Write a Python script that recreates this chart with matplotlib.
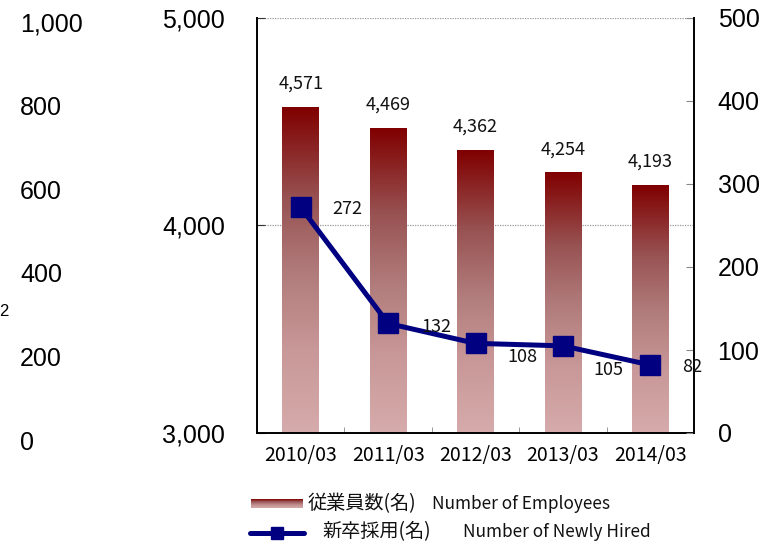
import numpy as np
import matplotlib
matplotlib.use("Agg")
import matplotlib.pyplot as plt
from matplotlib.colors import LinearSegmentedColormap
from matplotlib.lines import Line2D
from matplotlib.ticker import FuncFormatter

# ---- data ----
categories = ["2010/03", "2011/03", "2012/03", "2013/03", "2014/03"]
employees = [4571, 4469, 4362, 4254, 4193]
new_hires = [272, 132, 108, 105, 82]
left_ticks = [3000, 4000, 5000]
right_ticks = [0, 100, 200, 300, 400, 500]
outer_ticks = [0, 200, 400, 600, 800, 1000]
legend_emp_jp = "従業員数(名)"
legend_emp_en = "Number of Employees"
legend_new_jp = "新卒採用(名)"
legend_new_en = "Number of Newly Hired"

# label offsets (pixels) for the line value labels
hire_label_offsets = [(47, -2), (48, -4), (47, -14), (45, -24), (42, -2)]

plt.rcParams['font.family'] = ['Liberation Sans', 'DejaVu Sans']
cjk = ['Noto Sans CJK JP', 'DejaVu Sans']

W, H = 766, 542
fig = plt.figure(figsize=(W / 100, H / 100), dpi=100)


def fx(px):
    return px / W


def fy(py):
    return 1 - py / H


comma = FuncFormatter(lambda v, p: f"{int(v):,}")

# ---- main axes (employees) ----
ax = fig.add_axes([fx(257), fy(433), fx(694) - fx(257), fy(18) - fy(433)])
x = np.arange(len(categories))
cmap = LinearSegmentedColormap.from_list(
    'bar', [(0.0, '#d6abab'), (0.25, '#c99898'), (0.5, '#b07a7a'),
            (0.72, '#985252'), (1.0, '#800000')])
grad = np.linspace(0, 1, 256).reshape(-1, 1)

bars = ax.bar(x, employees, width=0.42, color='none', zorder=2)
for b in bars:
    x0 = b.get_x()
    x1 = x0 + b.get_width()
    y0 = max(b.get_y(), 3000)
    y1 = b.get_y() + b.get_height()
    ax.imshow(grad, extent=[x0, x1, y0, y1], origin='lower', aspect='auto',
              cmap=cmap, zorder=2)
for xi, v in zip(x, employees):
    ax.annotate(f"{v:,}", (xi, v), xytext=(0, 17), textcoords='offset points',
                ha='center', va='center', fontsize=13, family=cjk, color='#111111')

ax.set_xlim(-0.5, 4.5)
ax.set_ylim(3000, 5000)
ax.set_yticks(left_ticks)
ax.yaxis.set_major_formatter(comma)
ax.tick_params(axis='y', which='major', direction='in', length=6, color='#333333',
               pad=23, labelsize=18)
ax.tick_params(axis='y', which='minor', left=False)
ax.set_xticks(x, categories)
for lbl in ax.get_xticklabels():
    lbl.set_family(cjk)
ax.tick_params(axis='x', which='major', length=0, pad=9, labelsize=14)
ax.set_xticks([0.5, 1.5, 2.5, 3.5], minor=True)
ax.tick_params(axis='x', which='minor', direction='in', length=4, color='#888888')
ax.set_axisbelow(True)
ax.yaxis.grid(True, color='#999999', linestyle=(0, (1, 1)), linewidth=0.9)
ax.spines['top'].set_visible(False)
ax.spines['right'].set_visible(False)
for s in ['left', 'bottom']:
    ax.spines[s].set_color('black')
    ax.spines[s].set_linewidth(1.4)

# ---- right axes (new hires) ----
ax2 = ax.twinx()
ax2.plot(x, new_hires, color='#000080', lw=3.6, marker='s', ms=15,
         solid_joinstyle='miter', zorder=3)
for xi, v, (dx, dy) in zip(x, new_hires, hire_label_offsets):
    ax2.annotate(f"{v}", (xi, v), xytext=(dx * 0.72, dy * 0.72),
                 textcoords='offset points', ha='center', va='center',
                 fontsize=13, family=cjk, color='#111111')
ax2.set_ylim(0, 500)
ax2.set_yticks(right_ticks)
ax2.tick_params(axis='y', direction='in', length=6, color='#888888', pad=17,
                labelsize=18)
for s in ['top', 'left', 'bottom']:
    ax2.spines[s].set_visible(False)
ax2.spines['right'].set_color('black')
ax2.spines['right'].set_linewidth(1.4)

# ---- outer-left axis (0-1000) ----
ax3 = fig.add_axes([0, fy(440), fx(20), fy(22) - fy(440)])
ax3.set_ylim(0, 1000)
ax3.set_yticks(outer_ticks)
ax3.yaxis.set_major_formatter(comma)
ax3.yaxis.tick_right()
ax3.tick_params(axis='y', length=0, pad=0, labelsize=18)
ax3.set_xticks([])
for s in ax3.spines.values():
    s.set_visible(False)
ax3.patch.set_visible(False)

fig.text(fx(-1), fy(312), "2", fontsize=12, ha='left', va='center')

# ---- legend ----
lax = fig.add_axes([fx(251), fy(508), fx(303) - fx(251), fy(499) - fy(508)])
lax.imshow(grad, origin='lower', aspect='auto', cmap=cmap, extent=[0, 1, 0, 1])
lax.axis('off')
fig.text(fx(308), fy(504), legend_emp_jp, fontsize=13.8, family=cjk, va='center',
         ha='left', color='#111111')
fig.text(fx(432), fy(504), legend_emp_en, fontsize=12.4, family=cjk, va='center',
         ha='left', color='#111111')
fig.add_artist(Line2D([fx(250), fx(304)], [fy(533), fy(533)], transform=fig.transFigure,
                      color='#000080', lw=3.6, solid_capstyle='round'))
fig.add_artist(Line2D([fx(277)], [fy(533)], transform=fig.transFigure,
                      color='#000080', marker='s', ms=8, lw=0))
fig.text(fx(322), fy(532), legend_new_jp, fontsize=13.8, family=cjk, va='center',
         ha='left', color='#111111')
fig.text(fx(463), fy(532), legend_new_en, fontsize=12.4, family=cjk, va='center',
         ha='left', color='#111111')

fig.savefig("out.png", dpi=100)
